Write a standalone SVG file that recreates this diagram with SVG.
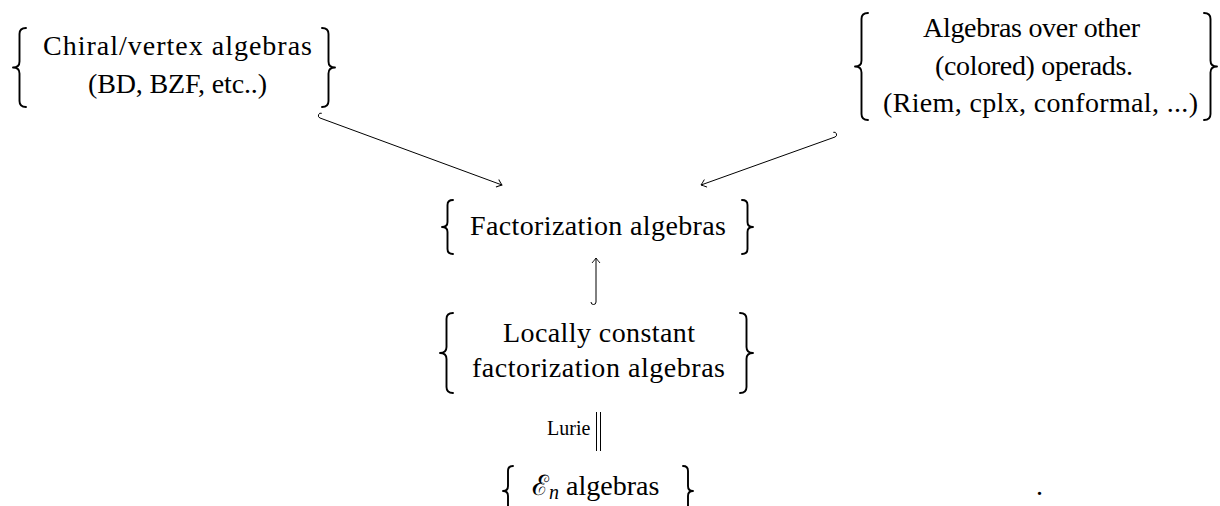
<svg xmlns="http://www.w3.org/2000/svg" width="1220" height="506" viewBox="0 0 1220 506">
<style>
  text { font-family: "Liberation Serif", "DejaVu Serif", serif; font-size: 28px; fill: #000; }
  .small { font-size: 20px; }
  .brace { fill: none; stroke: #000; stroke-width: 1.9; stroke-linecap: round; stroke-linejoin: round; }
  .edge { fill: none; stroke: #000; stroke-width: 1; }
</style>
<defs>
  <marker id="to" viewBox="-6 -5 8 10" markerWidth="8" markerHeight="10" refX="0" refY="0" orient="auto" markerUnits="userSpaceOnUse">
    <path d="M-5,-4 Q-1.5,-1 0,0 Q-1.5,1 -5,4" fill="none" stroke="#000" stroke-width="0.9"/>
  </marker>
</defs>
<rect width="1220" height="506" fill="#fff"/>

<g id="chiral">
  <path class="brace" d="M26,28 Q19.5,28 19.5,34 L19.5,61.5 Q19.5,67.5 13,67.5 Q19.5,67.5 19.5,73.5 L19.5,101 Q19.5,107 26,107"/>
  <path class="brace" d="M322,28 Q328.5,28 328.5,34 L328.5,61.5 Q328.5,67.5 335,67.5 Q328.5,67.5 328.5,73.5 L328.5,101 Q328.5,107 322,107"/>
  <text x="43" y="55" textLength="269" lengthAdjust="spacing">Chiral/vertex algebras</text>
  <text x="88" y="93" textLength="179" lengthAdjust="spacing">(BD, BZF, etc..)</text>
</g>

<g id="operads">
  <path class="brace" d="M868,13 Q861.5,13 861.5,19 L861.5,60.5 Q861.5,66.5 855,66.5 Q861.5,66.5 861.5,72.5 L861.5,114 Q861.5,120 868,120"/>
  <path class="brace" d="M1204,13 Q1210.5,13 1210.5,19 L1210.5,60.5 Q1210.5,66.5 1217,66.5 Q1210.5,66.5 1210.5,72.5 L1210.5,114 Q1210.5,120 1204,120"/>
  <text x="923" y="37" textLength="217" lengthAdjust="spacing">Algebras over other</text>
  <text x="935" y="75" textLength="198" lengthAdjust="spacing">(colored) operads.</text>
  <text x="883" y="112" textLength="315" lengthAdjust="spacing">(Riem, cplx, conformal, ...)</text>
</g>

<g id="factorization">
  <path class="brace" d="M453,200 Q447.5,200 447.5,205 L447.5,222 Q447.5,227 442,227 Q447.5,227 447.5,232 L447.5,249 Q447.5,254 453,254"/>
  <path class="brace" d="M742,200 Q747.5,200 747.5,205 L747.5,222 Q747.5,227 753,227 Q747.5,227 747.5,232 L747.5,249 Q747.5,254 742,254"/>
  <text x="470" y="235" textLength="256" lengthAdjust="spacing">Factorization algebras</text>
</g>

<g id="locally-constant">
  <path class="brace" d="M453,313 Q446.5,313 446.5,319 L446.5,347 Q446.5,353 440,353 Q446.5,353 446.5,359 L446.5,387 Q446.5,393 453,393"/>
  <path class="brace" d="M740,313 Q746.5,313 746.5,319 L746.5,347 Q746.5,353 753,353 Q746.5,353 746.5,359 L746.5,387 Q746.5,393 740,393"/>
  <text x="503" y="342" textLength="192" lengthAdjust="spacing">Locally constant</text>
  <text x="472" y="377" textLength="253" lengthAdjust="spacing">factorization algebras</text>
</g>

<g id="en-algebras">
  <path class="brace" d="M513,466 Q508,466 508,471 L508,486 Q508,491 503,491 Q508,491 508,496 L508,511 Q508,516 513,516"/>
  <path class="brace" d="M683,466 Q688,466 688,471 L688,486 Q688,491 693,491 Q688,491 688,496 L688,511 Q688,516 683,516"/>
  <text x="532" y="495">ℰ<tspan font-style="italic" font-size="20" dy="4">n</tspan><tspan dy="-4"> algebras</tspan></text>
</g>

<g id="connectors">
  <path class="edge" marker-end="url(#to)" d="M321.75,113.3 A2.5,2.5 0 0 0 320,118 L502,185"/>
  <path class="edge" marker-end="url(#to)" d="M833.3,132.3 A2.5,2.5 0 0 1 835,137 L701,185"/>
  <path class="edge" marker-end="url(#to)" d="M591,302 A2.5,2.5 0 0 0 596,302 L596,258"/>
  <line class="edge" x1="596.5" y1="412" x2="596.5" y2="451" stroke-width="0.8"/>
  <line class="edge" x1="600.5" y1="412" x2="600.5" y2="451" stroke-width="0.8"/>
  <text class="small" x="547" y="435">Lurie</text>
</g>

<text x="1036" y="495">.</text>
</svg>
